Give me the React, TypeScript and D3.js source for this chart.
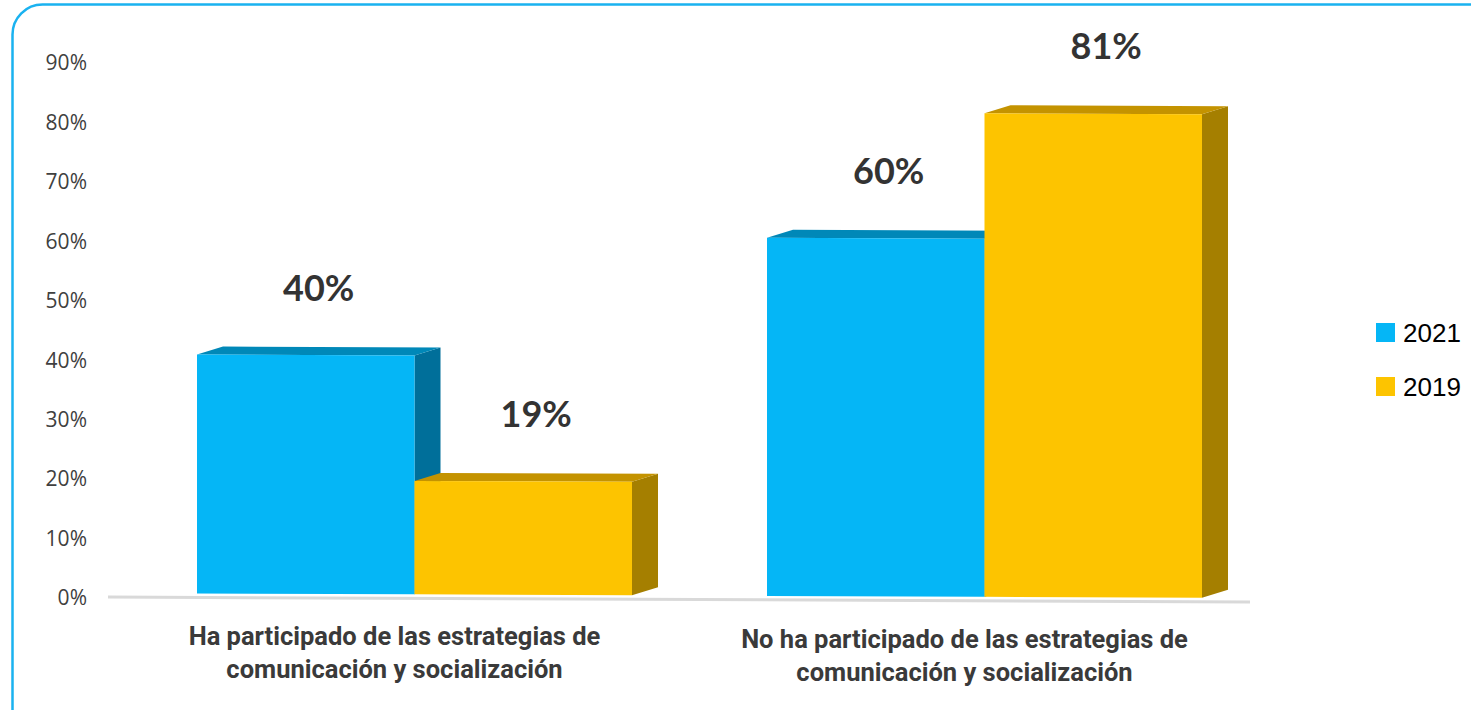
import React from "react";
import * as d3 from "d3";

const categories = [
  ["Ha participado de las estrategias de", "comunicación y socialización"],
  ["No ha participado de las estrategias de", "comunicación y socialización"],
];
const seriesNames = ["2021", "2019"];
const values2021 = [40, 60];
const values2019 = [19, 81];
const valueLabels2021 = ["40%", "60%"];
const valueLabels2019 = ["19%", "81%"];
const yTicks = [0, 10, 20, 30, 40, 50, 60, 70, 80, 90];

const colors = {
  "2021": { front: "#05B6F6", top: "#0088B8", side: "#006F9A" },
  "2019": { front: "#FDC400", top: "#C49300", side: "#A57F00" },
};

const W = 1471;
const H = 710;
const depthX = 26;
const depthY = -8;

const App = () => {
  const keys = categories.map((c) => c.join(" "));

  const x0 = d3.scaleBand().domain(keys).range([129.5, 1269.5]);
  const groupWidth = 435;
  const x1 = d3.scaleBand().domain(seriesNames).range([0, groupWidth]);

  // floor line has a slight perspective slope
  const floor = d3.scaleLinear().domain([108, 1250]).range([597, 602]);
  const base = (x) => floor(x) - 4;
  const h = d3.scaleLinear().domain([0, 100]).range([0, 597]);
  const yAxis = d3.scaleLinear().domain([0, 90]).range([598, 63]);

  const bars = [];
  keys.forEach((k, i) => {
    seriesNames.forEach((s) => {
      const v = s === "2021" ? values2021[i] : values2019[i];
      const lbl = s === "2021" ? valueLabels2021[i] : valueLabels2019[i];
      const xl = x0(k) + (x0.bandwidth() - groupWidth) / 2 + x1(s);
      const xr = xl + x1.bandwidth();
      bars.push({ key: k + s, s, v, lbl, xl, xr, bl: base(xl), br: base(xr), hh: h(v) });
    });
  });

  const pts = (arr) => arr.map((p) => p.join(",")).join(" ");

  return (
    <svg width={W} height={H} style={{ position: "absolute", left: 0, top: 0, background: "#fff" }}>
      <rect x={12.5} y={4.5} width={1520} height={740} rx={30} fill="#fff" stroke="#1AB2F0" strokeWidth={2.5} />

      {yTicks.map((t) => (
        <text
          key={t}
          x={87}
          y={yAxis(t)}
          dy="0.35em"
          textAnchor="end"
          fontFamily="'Open Sans', sans-serif"
          fontSize={21}
          fill="#404040"
        >
          {t}%
        </text>
      ))}

      <line x1={108} x2={1250} y1={floor(108)} y2={floor(1250)} stroke="#D9D9D9" strokeWidth={3} />

      {bars.map((b) => {
        const c = colors[b.s];
        const tl = [b.xl, b.bl - b.hh];
        const tr = [b.xr, b.br - b.hh];
        const bR = [b.xr, b.br];
        const bL = [b.xl, b.bl];
        return (
          <g key={b.key}>
            <polygon
              points={pts([bR, tr, [tr[0] + depthX, tr[1] + depthY], [bR[0] + depthX, bR[1] + depthY]])}
              fill={c.side}
            />
            <polygon
              points={pts([tl, tr, [tr[0] + depthX, tr[1] + depthY], [tl[0] + depthX, tl[1] + depthY]])}
              fill={c.top}
            />
            <polygon points={pts([bL, bR, tr, tl])} fill={c.front} />
          </g>
        );
      })}

      {bars.map((b) => (
        <text
          key={"l" + b.key}
          x={(b.xl + b.xr) / 2 + depthX / 2}
          y={b.bl - b.hh - 54}
          textAnchor="middle"
          fontFamily="Lato, sans-serif"
          fontWeight={700}
          fontSize={36}
          fill="#333333"
        >
          {b.lbl}
        </text>
      ))}

      {keys.map((k, i) => {
        const cx = x0(k) + x0.bandwidth() / 2 - 20;
        return (
          <text
            key={k}
            x={cx}
            y={floor(cx) + 47}
            textAnchor="middle"
            fontFamily="Roboto, sans-serif"
            fontWeight={700}
            fontSize={25.5}
            fill="#3A3A3A"
          >
            {categories[i].map((line, j) => (
              <tspan key={j} x={cx} dy={j === 0 ? 0 : 33}>
                {line}
              </tspan>
            ))}
          </text>
        );
      })}

      {seriesNames.map((s, i) => (
        <g key={s} transform={`translate(1376, ${323 + i * 54})`}>
          <rect width={19} height={19} fill={colors[s].front} />
          <text x={27} y={19} fontFamily="'Liberation Sans', Arial, sans-serif" fontSize={26} fill="#000">
            {s}
          </text>
        </g>
      ))}
    </svg>
  );
};

export default App;
